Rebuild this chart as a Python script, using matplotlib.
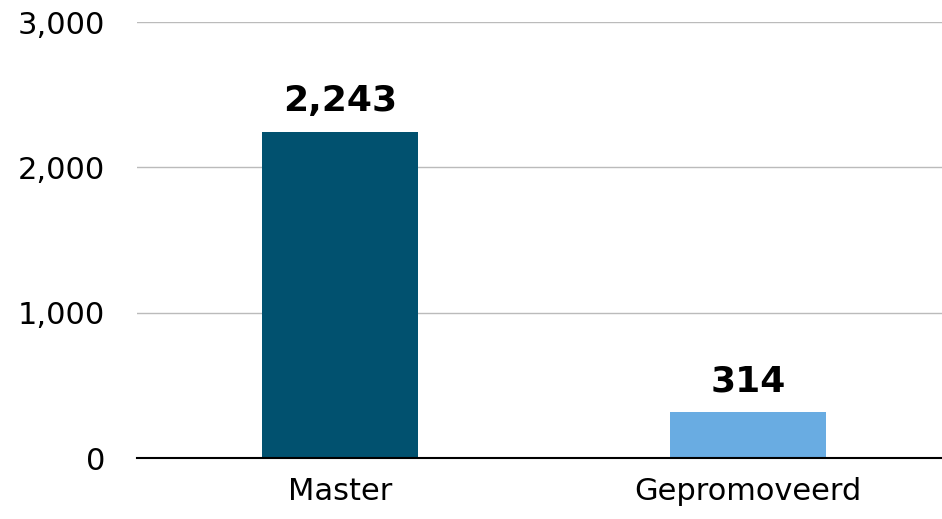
import matplotlib
matplotlib.use("Agg")
import matplotlib.pyplot as plt

categories = ["Master", "Gepromoveerd"]
values = [2243, 314]
colors = ["#01516F", "#69ACE2"]
yticks = [0, 1000, 2000, 3000]

fig = plt.figure(figsize=(9.42, 5.19), dpi=100)
ax = fig.add_axes([0.1454, 0.1175, 0.8546, 0.8401])

x = list(range(len(categories)))
bars = ax.bar(x, values, width=0.382, color=colors, zorder=3)
for xi, v in zip(x, values):
    ax.annotate(f"{v:,}", (xi, v), xytext=(0, 10), textcoords="offset points",
                ha="center", va="bottom", fontsize=26, fontweight="bold", color="black")

ax.set_xlim(-0.497, 1.475)
ax.set_ylim(0, 3000)
ax.set_yticks(yticks)
ax.set_yticklabels([f"{t:,}" for t in yticks])
ax.set_xticks(x)
ax.set_xticklabels(categories)
ax.tick_params(axis="y", length=0, pad=23, labelsize=22)
ax.tick_params(axis="x", length=0, pad=14, labelsize=22)
ax.grid(axis="y", color="#BBBBBB", linewidth=1, zorder=0)
for s in ["top", "right", "left"]:
    ax.spines[s].set_visible(False)
ax.spines["bottom"].set_color("black")
ax.spines["bottom"].set_linewidth(1.5)
ax.spines["bottom"].set_zorder(4)

fig.savefig("out.png", dpi=100)
